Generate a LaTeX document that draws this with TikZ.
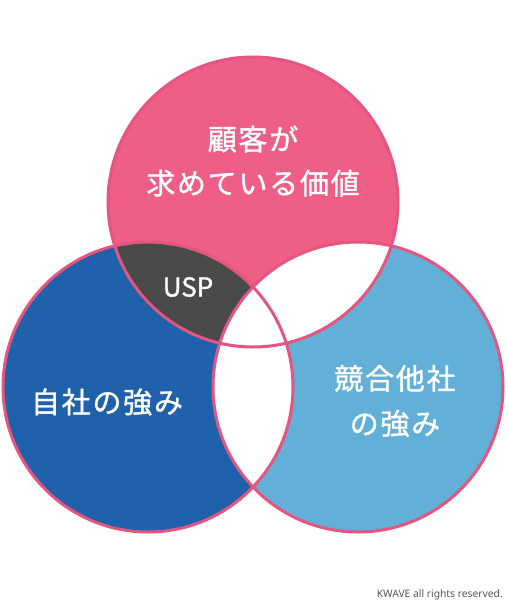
\documentclass[tikz,border=0pt]{standalone}
\usepackage{fontspec}
\newfontfamily\jpfont[FakeBold=1.2,LetterSpace=6]{Noto Sans CJK JP}
\newfontfamily\uspfont[FakeBold=1.2]{Noto Sans CJK JP}
\newfontfamily\notefont{Noto Sans}
\usetikzlibrary{positioning}
\definecolor{rosy}{HTML}{EE5E87}
\definecolor{rim}{HTML}{E5557F}
\definecolor{navy}{HTML}{1F61AB}
\definecolor{sky}{HTML}{62B0D8}
\definecolor{uspgray}{HTML}{4A4A4A}
\definecolor{note}{HTML}{555555}
\tikzset{
  ring/.style={draw=rim,line width=3pt},
  lab/.style={text=white,align=center,font=\jpfont\fontsize{29}{44}\selectfont},
  usplab/.style={text=white,font=\uspfont\fontsize{26}{30}\selectfont},
  foot/.style={text=note,font=\notefont\fontsize{10.3}{12}\selectfont,inner sep=0pt},
}

\begin{document}
\begin{tikzpicture}[x=1pt,y=-1pt]
\useasboundingbox (0,0) rectangle (507,605);
\coordinate (ct) at (253,202);
\coordinate (cl) at (148,387);
\coordinate (cr) at (358,387);
\def\rad{145}
% the three sets
\fill[rosy] (ct) circle[radius=\rad];
\fill[navy] (cl) circle[radius=\rad];
\fill[sky] (cr) circle[radius=\rad];
% overlaps
\begin{scope}
  \clip (ct) circle[radius=\rad];
  \fill[uspgray] (cl) circle[radius=\rad];
  \fill[white] (cr) circle[radius=\rad];
\end{scope}
\begin{scope}
  \clip (cl) circle[radius=\rad];
  \fill[white] (cr) circle[radius=\rad];
\end{scope}
\foreach \c in {ct,cl,cr} {\draw[ring] (\c) circle[radius=\rad];}
% labels
\node[lab] (need) at (253,161) {顧客が\\求めている価値};
\node[usplab] (usp) at (188,287) {USP};
\node[lab] (own) at (107,402) {自社の強み};
\node[lab,font=\jpfont\fontsize{29}{45}\selectfont] (rival) at (395,401) {競合他社\\の強み};
\node[foot,anchor=east] (copy) at (503,595) {KWAVE all rights reserved.};
\end{tikzpicture}
\end{document}
